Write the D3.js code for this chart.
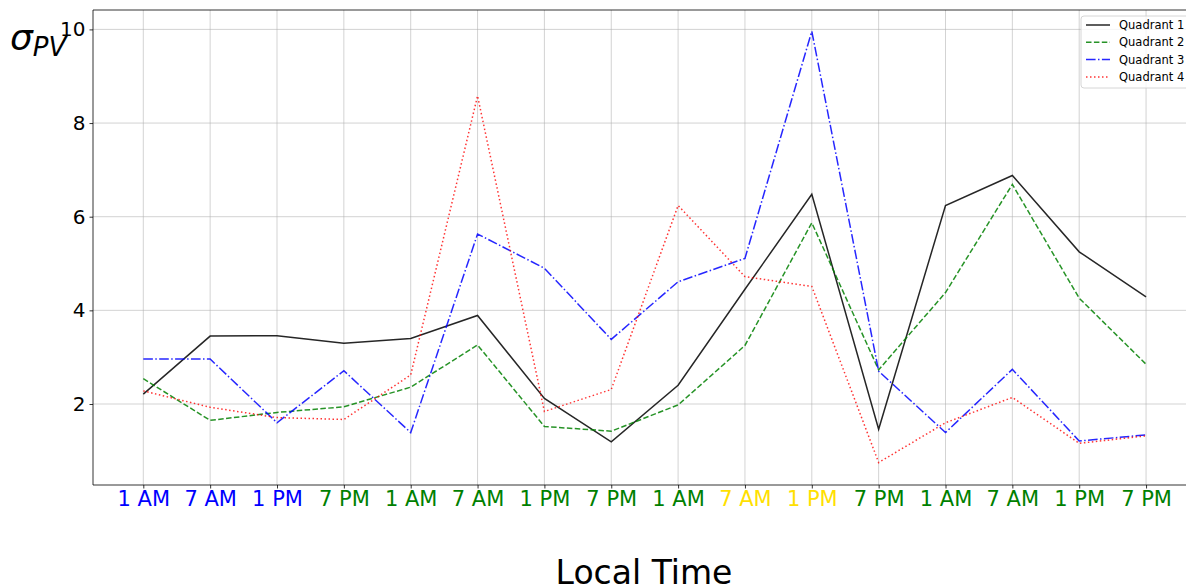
<!DOCTYPE html>
<html><head><meta charset="utf-8">
<script src="https://cdn.jsdelivr.net/npm/d3@7"></script>
<style>body{margin:0;background:#fff;} svg{display:block;font-family:"DejaVu Sans",sans-serif;}</style>
</head><body>
<svg id="c" width="1186" height="588"></svg>
<script>
const tickLabels = ["1 AM","7 AM","1 PM","7 PM","1 AM","7 AM","1 PM","7 PM","1 AM","7 AM","1 PM","7 PM","1 AM","7 AM","1 PM","7 PM"];
const tickColors = ["#0000ff","#0000ff","#0000ff","#008000","#008000","#008000","#008000","#008000","#008000","#ffe000","#ffe000","#008000","#008000","#008000","#008000","#008000"];
const q1 = [2.21,3.45,3.46,3.30,3.40,3.89,2.12,1.19,2.40,4.45,6.48,1.46,6.24,6.88,5.25,4.29];
const q2 = [2.54,1.65,1.82,1.94,2.36,3.26,1.52,1.42,1.98,3.25,5.87,2.73,4.38,6.69,4.26,2.85];
const q3 = [2.96,2.96,1.60,2.71,1.39,5.63,4.90,3.38,4.61,5.11,9.96,2.70,1.39,2.74,1.21,1.34];
const q4 = [2.28,1.93,1.71,1.67,2.62,8.58,1.84,2.31,6.24,4.72,4.51,0.75,1.60,2.14,1.16,1.32];
const seriesNames = ["Quadrant 1","Quadrant 2","Quadrant 3","Quadrant 4"];
const yTicks = [2,4,6,8,10];

const series = [
  {name:seriesNames[0], values:q1, color:"#000000", dash:null, op:0.85},
  {name:seriesNames[1], values:q2, color:"#008000", dash:"5.5,2.4", op:0.85},
  {name:seriesNames[2], values:q3, color:"#0000ff", dash:"9.6,2.4,1.5,2.4", op:0.85},
  {name:seriesNames[3], values:q4, color:"#ff0000", dash:"1.5,2.5", op:0.8}
];

const svg = d3.select("#c");
const pLeft = 93, pTop = 10, pBottom = 485;
const step = 66.85, x0 = 143.3;
const x = d3.scaleLinear().domain([-0.75, 15.75]).range([x0 - 0.75*step, x0 + 15.75*step]);
const y = d3.scaleLinear().domain([2, 10]).range([404, 29.4]);

// grid
const g = svg.append("g");
g.selectAll(".vg").data(d3.range(16)).enter().append("line")
  .attr("x1", d=>x(d)).attr("x2", d=>x(d)).attr("y1", pTop).attr("y2", pBottom)
  .attr("stroke","#b0b0b0").attr("stroke-opacity",0.7).attr("stroke-width",0.8);
g.selectAll(".hg").data(yTicks).enter().append("line")
  .attr("x1", pLeft).attr("x2", 1186).attr("y1", d=>y(d)).attr("y2", d=>y(d))
  .attr("stroke","#b0b0b0").attr("stroke-opacity",0.7).attr("stroke-width",0.8);

// lines
const line = d3.line().x((d,i)=>x(i)).y(d=>y(d));
series.forEach(s=>{
  svg.append("path").datum(s.values).attr("d", line)
    .attr("fill","none").attr("stroke", s.color).attr("stroke-width",1.5)
    .attr("stroke-opacity", s.op)
    .attr("stroke-dasharray", s.dash);
});

// axes
const xAxis = d3.axisBottom(x).tickValues(d3.range(16)).tickFormat(i=>tickLabels[i]).tickSize(3.5).tickPadding(3);
const xg = svg.append("g").attr("transform",`translate(0,${pBottom})`).call(xAxis);
xg.select(".domain").remove();
xg.selectAll(".tick line").attr("stroke","#000").attr("stroke-width",0.8);
xg.selectAll(".tick text").attr("font-size",21).attr("font-family","DejaVu Sans")
  .attr("fill",(d)=>tickColors[d]);

const yAxis = d3.axisLeft(y).tickValues(yTicks).tickSize(3.5).tickPadding(4);
const yg = svg.append("g").attr("transform",`translate(${pLeft},0)`).call(yAxis);
yg.select(".domain").remove();
yg.selectAll(".tick line").attr("stroke","#000").attr("stroke-width",0.8);
yg.selectAll(".tick text").attr("font-size",20).attr("font-family","DejaVu Sans").attr("fill","#000");

// spines
svg.append("line").attr("x1",pLeft).attr("x2",pLeft).attr("y1",pTop).attr("y2",pBottom).attr("stroke","#000").attr("stroke-width",0.8);
svg.append("line").attr("x1",pLeft).attr("x2",1186).attr("y1",pBottom).attr("y2",pBottom).attr("stroke","#000").attr("stroke-width",0.8);
svg.append("line").attr("x1",pLeft).attr("x2",1186).attr("y1",pTop).attr("y2",pTop).attr("stroke","#000").attr("stroke-width",0.8);

// axis labels
svg.append("text").attr("x", 644).attr("y", 584).attr("text-anchor","middle")
  .attr("font-size",33).attr("fill","#000").text("Local Time");
const yl = svg.append("text").attr("x", 10).attr("y", 50).attr("font-size",36).attr("font-style","italic").attr("fill","#000");
yl.append("tspan").text("σ");
yl.append("tspan").attr("dy", 6).attr("font-size",26).text("PV");

// legend
const lg = svg.append("g").attr("transform","translate(1081,16)");
lg.append("rect").attr("x",0).attr("y",0).attr("width",112).attr("height",72).attr("rx",3)
  .attr("fill","#fff").attr("fill-opacity",0.8).attr("stroke","#cccccc").attr("stroke-width",0.8);
series.forEach((s,i)=>{
  const yy = 9 + i*17.3;
  lg.append("line").attr("x1",5).attr("x2",29).attr("y1",yy).attr("y2",yy)
    .attr("stroke",s.color).attr("stroke-width",1.5).attr("stroke-opacity",s.op).attr("stroke-dasharray",s.dash);
  lg.append("text").attr("x",38).attr("y",yy+4).attr("font-size",11.5).attr("fill","#000").text(s.name);
});
</script>
</body></html>
